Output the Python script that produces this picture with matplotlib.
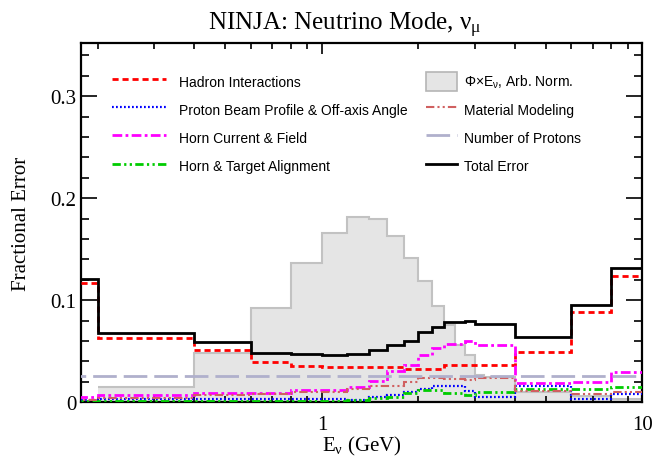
import matplotlib
matplotlib.use("Agg")
import matplotlib.pyplot as plt
from matplotlib.lines import Line2D
from matplotlib.patches import Patch
from matplotlib.legend_handler import HandlerLine2D
from matplotlib.ticker import FixedLocator, NullFormatter, MultipleLocator

plt.rcParams["font.family"] = ["Liberation Serif", "DejaVu Serif"]
plt.rcParams["mathtext.fontset"] = "custom"
plt.rcParams["mathtext.rm"] = "Liberation Serif"
plt.rcParams["mathtext.it"] = "Liberation Serif:italic"
plt.rcParams["mathtext.sf"] = "Liberation Sans"

# error bin edges (GeV)
err_edges = [0.1, 0.2, 0.4, 0.6, 0.8, 1.0, 1.2, 1.4, 1.6, 1.8, 2.0,
             2.2, 2.4, 2.6, 2.8, 3.0, 4.0, 6.0, 8.0, 10.0]

hadron = [0.117, 0.0629, 0.0516, 0.039, 0.0358, 0.0349, 0.0346, 0.0346, 0.0342, 0.0326,
          0.0326, 0.0326, 0.0365, 0.0365, 0.0365, 0.0365, 0.049, 0.0885, 0.1237]
beam_profile = [0.002, 0.003, 0.003, 0.003, 0.003, 0.003, 0.0025, 0.005, 0.0072, 0.0105,
                0.013, 0.0158, 0.016, 0.016, 0.0115, 0.005, 0.0164, 0.0033, 0.008]
horn_current = [0.005, 0.0075, 0.009, 0.0095, 0.0125, 0.0122, 0.0148, 0.021, 0.031, 0.0367,
                0.0465, 0.0527, 0.057, 0.057, 0.060, 0.0565, 0.0188, 0.020, 0.0293]
horn_align = [0.001, 0.0015, 0.0015, 0.0015, 0.0015, 0.0015, 0.002, 0.004, 0.005, 0.009,
              0.012, 0.012, 0.0095, 0.009, 0.0075, 0.0105, 0.013, 0.0135, 0.0145]
material = [0.002, 0.004, 0.0075, 0.008, 0.010, 0.010, 0.013, 0.0163, 0.0163, 0.0197,
            0.024, 0.024, 0.023, 0.023, 0.0215, 0.0235, 0.0115, 0.0085, 0.010]
n_protons = [0.026] * 19
total = [0.1207, 0.068, 0.059, 0.0487, 0.0474, 0.0464, 0.0477, 0.0516, 0.0563, 0.0605,
         0.0688, 0.0737, 0.0787, 0.0787, 0.080, 0.077, 0.0635, 0.0957, 0.1313]

# flux x energy, arbitrary normalisation
flux_edges = [0.2, 0.4, 0.6, 0.8, 1.0, 1.2, 1.4, 1.6, 1.8, 2.0, 2.2, 2.4, 2.6,
              2.8, 3.0, 3.2, 4.0, 6.0, 8.0, 10.0]
flux_e = [0.0145, 0.048, 0.0925, 0.136, 0.166, 0.182, 0.180, 0.163, 0.1415, 0.1185,
          0.0948, 0.0756, 0.0558, 0.046, 0.027, 0.025, 0.010, 0.0065, 0.0035]

fig = plt.figure(figsize=(6.52, 4.6), dpi=100)
ax = fig.add_axes([0.124, 0.1233, 0.8614, 0.781])

ax.stairs(flux_e, flux_edges, fill=True, color="#e5e5e5", zorder=1)
ax.stairs(flux_e, flux_edges, baseline=None, color="#c2c2c2", lw=1.5, zorder=1.5)

styles = [
    (hadron, dict(color="#ff0000", lw=2.0, ls=(0, (2.2, 1.4))), "Hadron Interactions"),
    (beam_profile, dict(color="#0000ff", lw=1.6, ls=(0, (0.8, 1.0))), "Proton Beam Profile & Off-axis Angle"),
    (horn_current, dict(color="#ff00ff", lw=2.0, ls=(0, (3.5, 1.2, 1.0, 1.2))), "Horn Current & Field"),
    (horn_align, dict(color="#00cc00", lw=2.0, ls=(0, (3.0, 1.2, 0.8, 1.2, 0.8, 1.2))), "Horn & Target Alignment"),
    (material, dict(color="#d06060", lw=1.5, ls=(0, (4, 1.5, 1, 1.5, 1, 1.5))), "Material Modeling"),
    (n_protons, dict(color="#b0b0cc", lw=2.0, ls=(0, (8.5, 2.5))), "Number of Protons"),
    (total, dict(color="black", lw=2.0, ls="-"), "Total Error"),
]

handles = {}
for vals, kw, label in styles:
    ax.stairs(vals, err_edges, baseline=None, zorder=3, **kw)
    handles[label] = Line2D([], [], **kw)

ax.set_xscale("log")
ax.set_xlim(0.177, 10)
ax.set_ylim(0, 0.352)

ax.xaxis.set_major_locator(FixedLocator([1, 10]))
ax.set_xticklabels(["1", "10"])
ax.xaxis.set_minor_locator(FixedLocator([0.2, 0.3, 0.4, 0.5, 0.6, 0.7, 0.8, 0.9,
                                         2, 3, 4, 5, 6, 7, 8, 9]))
ax.xaxis.set_minor_formatter(NullFormatter())
ax.yaxis.set_minor_locator(MultipleLocator(0.02))
ax.set_yticks([0, 0.1, 0.2, 0.3])
ax.set_yticklabels(["0", "0.1", "0.2", "0.3"])

ax.tick_params(which="both", direction="in", top=True, right=True, width=1.2,
               labelsize=15)
ax.tick_params(axis="y", which="major", length=11.5, pad=3)
ax.tick_params(axis="y", which="minor", length=5.8)
ax.tick_params(axis="x", which="major", length=8, pad=9)
ax.tick_params(axis="x", which="minor", length=4)
for sp in ax.spines.values():
    sp.set_linewidth(1.6)

fig.text(208 / 652, 1 - 30 / 460, r"NINJA: Neutrino Mode, $\mathrm{\nu_{\mu}}$",
         fontsize=18, ha="left", va="baseline")
ax.set_xlabel(r"E$_{\mathrm{\nu}}$ (GeV)", fontsize=15, labelpad=0)
ax.set_ylabel("Fractional Error", fontsize=15, labelpad=14)

leg_kw = dict(frameon=False, loc="upper left", bbox_transform=fig.transFigure,
              borderpad=0, borderaxespad=0, handleheight=1.7, labelspacing=0.68,
              handler_map={Line2D: HandlerLine2D(marker_pad=0)},
              prop={"family": "Liberation Sans", "size": 10})

left_labels = ["Hadron Interactions", "Proton Beam Profile & Off-axis Angle",
               "Horn Current & Field", "Horn & Target Alignment"]
leg1 = ax.legend([handles[l] for l in left_labels], left_labels,
                 bbox_to_anchor=(0.1713, 0.8413), handlelength=3.88,
                 handletextpad=0.98, **leg_kw)
ax.add_artist(leg1)

flux_patch = Patch(facecolor="#e5e5e5", edgecolor="#b5b5b5", lw=1.2)
right_labels = ["Material Modeling", "Number of Protons", "Total Error"]
ax.legend([flux_patch] + [handles[l] for l in right_labels],
          [r"Φ×E$_{\mathsf{\nu}}$, Arb. Norm."] + right_labels,
          bbox_to_anchor=(0.654, 0.8413), handlelength=2.23,
          handletextpad=0.47, **leg_kw)

fig.savefig("out.png", dpi=100)
